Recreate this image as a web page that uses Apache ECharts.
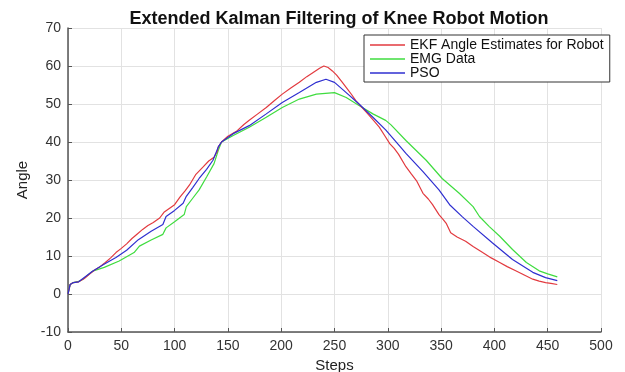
<!DOCTYPE html>
<html>
<head>
<meta charset="utf-8">
<script src="https://cdn.jsdelivr.net/npm/echarts@6/dist/echarts.min.js"></script>
<style>
  html, body { margin: 0; padding: 0; background: #fff; }
  #knee-chart { width: 625px; height: 372px; }
</style>
</head>
<body>
<div id="knee-chart"></div>
<script>
// values
const ekfSteps = [0, 2, 5, 10, 15, 20, 25, 30, 35, 40, 45, 50, 55, 60, 65, 70, 75, 80, 86, 90, 95, 100, 105, 110, 114, 120, 127, 132, 137, 140, 141, 144, 150, 158, 165, 170, 178, 186, 194, 201, 209, 217, 224, 230, 236, 240, 244, 248, 252, 257, 262, 266, 270, 275, 280, 286, 292, 297, 302, 306, 310, 317, 322, 327, 333, 338, 342, 345, 348, 352, 355, 359, 365, 373, 380, 389, 397, 405, 412, 420, 428, 436, 442, 448, 453, 459]
const ekfAngle = [0, 2.5, 3, 3.2, 4, 5.2, 6.3, 7.2, 8.3, 9.5, 10.9, 12, 13.2, 14.6, 15.8, 17, 18, 18.8, 20, 21.5, 22.5, 23.5, 25.5, 27.2, 28.7, 31.5, 33.5, 35, 36, 37.5, 38.7, 40, 41.5, 42.8, 44.6, 45.7, 47.4, 49.1, 51, 52.6, 54.2, 55.7, 57.2, 58.3, 59.4, 60, 59.6, 58.7, 57.6, 55.8, 54, 52.5, 50.9, 49.3, 47.8, 45.9, 43.9, 41.7, 39.5, 38.3, 36.8, 33.5, 31.6, 29.8, 26.5, 25, 23.5, 22.2, 20.9, 19.6, 18.5, 16.1, 15, 13.9, 12.5, 10.9, 9.5, 8.3, 7.2, 6.1, 5, 3.9, 3.4, 3, 2.8, 2.5]

const emgSteps = [0, 2, 5, 10, 14, 23, 34, 48, 62, 67, 78, 89, 92, 100, 109, 111, 117, 123, 130, 137, 141, 144, 155, 170, 186, 201, 217, 233, 250, 261, 273, 286, 298, 303, 317, 336, 351, 367, 380, 386, 395, 405, 417, 430, 442, 450, 459]
const emgAngle = [0, 2.5, 3, 3.3, 3.9, 6, 7, 8.7, 10.9, 12.6, 14.2, 15.7, 17.4, 19, 20.9, 23, 25.2, 27.4, 30.8, 34.3, 37.8, 40, 41.7, 43.9, 46.5, 49.1, 51.3, 52.6, 53, 51.7, 49.6, 47.4, 45.7, 44.5, 40.4, 35.2, 30.4, 26.5, 23, 20.4, 17.8, 15.2, 11.7, 8.3, 6.1, 5.3, 4.5]

const psoSteps = [0, 2, 5, 10, 23, 35, 45, 55, 66, 78, 89, 92, 100, 108, 111, 117, 123, 130, 136, 141, 144, 155, 170, 186, 201, 217, 233, 242, 250, 261, 273, 286, 298, 311, 317, 333, 348, 358, 370, 380, 398, 417, 436, 448, 459]
const psoAngle = [0, 2.5, 3, 3.2, 6, 8, 9.6, 11.5, 14.3, 16.5, 18.3, 20.4, 22, 23.9, 25.7, 28, 30.4, 32.8, 35.2, 38.7, 40, 42.2, 44.3, 47.4, 50.4, 53, 55.7, 56.5, 55.7, 53, 50, 46.5, 43.2, 39, 37, 32.2, 27.4, 23.5, 20.3, 17.8, 13.5, 9.1, 5.7, 4.3, 3.5]

const seriesNames = ['EKF Angle Estimates for Robot', 'EMG Data', 'PSO']

function pairs(xs, ys) {
  return xs.map((x, i) => [x, ys[i]])
}

const font = 'Liberation Sans, Arial, sans-serif'
const chart = echarts.init(document.getElementById('knee-chart'), null, { renderer: 'canvas' })

const option = {
  animation: false,
  backgroundColor: '#fff',
  title: {
    text: 'Extended Kalman Filtering of Knee Robot Motion',
    left: 334,
    top: 5,
    textAlign: 'center',
    textStyle: { fontFamily: font, fontSize: 18, fontWeight: 'bold', color: '#111' }
  },
  legend: {
    orient: 'vertical',
    left: 364,
    top: 35,
    padding: [3, 6, 2, 6],
    icon: 'rect',
    itemWidth: 35,
    itemHeight: 1.5,
    itemGap: 0,
    backgroundColor: '#fff',
    borderColor: '#333',
    borderWidth: 1,
    textStyle: { fontFamily: font, fontSize: 14, color: '#111', lineHeight: 14 },
    data: seriesNames
  },
  grid: { left: 68, right: 24, top: 28, bottom: 40, outerBoundsMode: 'none' },
  xAxis: {
    type: 'value',
    min: 0,
    max: 500,
    interval: 50,
    name: 'Steps',
    nameLocation: 'middle',
    nameGap: 22,
    nameTextStyle: { fontFamily: font, fontSize: 15, color: '#222' },
    axisLine: { show: true, onZero: false, lineStyle: { color: '#555', width: 1.5 } },
    axisTick: { show: true, inside: true, length: 4, lineStyle: { color: '#555' } },
    axisLabel: { fontFamily: font, fontSize: 14, color: '#333', margin: 7 },
    splitLine: { show: true, lineStyle: { color: '#e2e2e2', width: 1 } }
  },
  yAxis: {
    type: 'value',
    min: -10,
    max: 70,
    interval: 10,
    name: 'Angle',
    nameLocation: 'middle',
    nameGap: 37,
    nameTextStyle: { fontFamily: font, fontSize: 15, color: '#222' },
    axisLine: { show: true, onZero: false, lineStyle: { color: '#555', width: 1.5 } },
    axisTick: { show: true, inside: true, length: 4, lineStyle: { color: '#555' } },
    axisLabel: { fontFamily: font, fontSize: 14, color: '#333', margin: 7 },
    splitLine: { show: true, lineStyle: { color: '#e2e2e2', width: 1 } }
  },
  series: [
    {
      name: seriesNames[0],
      type: 'line',
      data: pairs(ekfSteps, ekfAngle),
      showSymbol: false,
      symbol: 'none',
      lineStyle: { color: '#e23a3f', width: 1.2 },
      itemStyle: { color: '#e23a3f' },
      z: 3
    },
    {
      name: seriesNames[1],
      type: 'line',
      data: pairs(emgSteps, emgAngle),
      showSymbol: false,
      symbol: 'none',
      lineStyle: { color: '#3fdc3f', width: 1.2 },
      itemStyle: { color: '#3fdc3f' },
      z: 2
    },
    {
      name: seriesNames[2],
      type: 'line',
      data: pairs(psoSteps, psoAngle),
      showSymbol: false,
      symbol: 'none',
      lineStyle: { color: '#2f2fd0', width: 1.2 },
      itemStyle: { color: '#2f2fd0' },
      z: 4
    }
  ]
}

chart.setOption(option)
</script>
</body>
</html>
